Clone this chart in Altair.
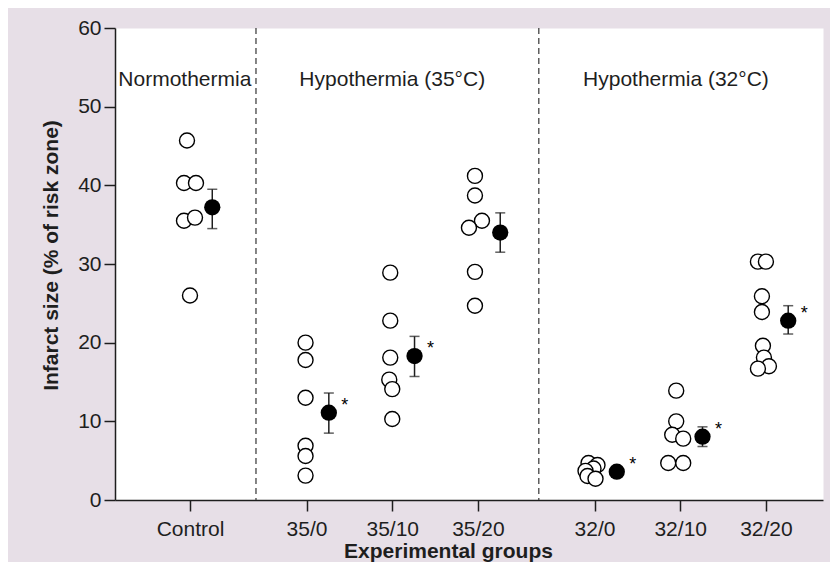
import altair as alt
import pandas as pd

# ---------------- data ----------------
groups = ["Control", "35/0", "35/10", "35/20", "32/0", "32/10", "32/20"]
cluster = [0, 1, 1, 1, 2, 2, 2]
cluster_labels = ["Normothermia", "Hypothermia (35°C)", "Hypothermia (32°C)"]
label_anchor = ["Control", "35/10", "32/10"]

individual = {
    "Control": [45.7, 40.3, 40.3, 35.5, 35.9, 26.0],
    "35/0": [20.0, 17.8, 13.0, 6.9, 5.6, 3.1],
    "35/10": [28.9, 22.8, 18.1, 15.3, 14.1, 10.3],
    "35/20": [41.2, 38.7, 35.5, 34.6, 29.0, 24.7],
    "32/0": [4.7, 4.45, 4.0, 3.7, 3.05, 2.7],
    "32/10": [13.9, 10.0, 8.3, 7.8, 4.7, 4.7],
    "32/20": [30.3, 30.3, 25.9, 23.9, 19.6, 18.1, 17.0, 16.7],
}
# horizontal scatter of the open circles (pixels from the group tick)
jitter_px = {
    "Control": [-3, -6, 6, -6, 5, 0],
    "35/0": [-1, -1, -1, -1, -1, -1],
    "35/10": [-2, -2, -2, -3, 0, 0],
    "35/20": [-3, -3, 4, -9, -3, -3],
    "32/0": [-6, 3, -1, -9, -7, 1],
    "32/10": [-4, -4, -8, 3, -12, 3],
    "32/20": [-8, 0, -4, -4, -3, -2, 3, -8],
}
means = [37.2, 11.1, 18.3, 34.0, 3.6, 8.05, 22.8]
sem_hi = [39.5, 13.6, 20.8, 36.5, 3.95, 9.3, 24.7]
sem_lo = [34.5, 8.5, 15.7, 31.5, 3.25, 6.8, 21.1]
signif = ["", "*", "*", "", "*", "*", "*"]

# ---------------- layout ----------------
GAP = 0.36            # extra space between temperature clusters
PX = 85.7             # pixels per x unit
MEAN_SHIFT = 0.26     # mean symbol drawn to the right of the raw points
LABEL_Y = 52.6
label_shift = [-0.06, 0.0, -0.05]
dividers = [0.77, 4.07]

pos = {g: i + GAP * c for i, (g, c) in enumerate(zip(groups, cluster))}

raw_rows = []
for g in groups:
    for v, j in zip(individual[g], jitter_px[g]):
        raw_rows.append({"group": g, "x": pos[g] + j / PX, "v": v})
raw_df = pd.DataFrame(raw_rows)

mean_df = pd.DataFrame({
    "group": groups,
    "x": [pos[g] + MEAN_SHIFT for g in groups],
    "v": means,
    "hi": sem_hi,
    "lo": sem_lo,
    "sig": signif,
})

lab_df = pd.DataFrame({
    "text": cluster_labels,
    "x": [pos[a] + s for a, s in zip(label_anchor, label_shift)],
    "v": [LABEL_Y] * 3,
})
div_df = pd.DataFrame({"x": dividers})

# label expression for x ticks
tick_vals = [pos[g] for g in groups]
expr = "''"
for g in reversed(groups):
    expr = f"abs(datum.value - {pos[g]}) < 0.05 ? '{g}' : " + expr

INK = "#1e1e1e"
FONT = "Liberation Sans"

xscale = alt.Scale(domain=[-0.875, 7.386], nice=False, zero=False)
yscale = alt.Scale(domain=[0, 60], nice=False)

xaxis = alt.Axis(
    values=tick_vals, labelExpr=expr, title="Experimental groups",
    titleFontSize=21, titleFontWeight="bold", titleColor=INK,
    titleX=333, titleY=57, titleAlign="center", titleBaseline="alphabetic",
    labelFontSize=21, labelColor=INK, labelPadding=7, labelFlush=False,
    labelOverlap=False, tickSize=11, tickWidth=1.5, tickColor=INK,
    domainColor=INK, domainWidth=1.5, grid=False,
)
yaxis = alt.Axis(
    values=list(range(0, 61, 10)), title="Infarct size (% of risk zone)",
    titleFontSize=21, titleFontWeight="bold", titleColor=INK,
    titleAngle=270, titleX=-58, titleY=227, titleAlign="center",
    titleBaseline="alphabetic",
    labelFontSize=21, labelColor=INK, labelPadding=3,
    tickSize=11, tickWidth=1.5, tickColor=INK,
    domainColor=INK, domainWidth=1.5, grid=False,
)

X = alt.X("x:Q", scale=xscale, axis=xaxis)
Y = alt.Y("v:Q", scale=yscale, axis=yaxis)

div = alt.Chart(div_df).mark_rule(
    color="#444444", strokeWidth=1.3, strokeDash=[6, 4]
).encode(x=X)

err = alt.Chart(mean_df).mark_rule(color=INK, strokeWidth=1.5).encode(
    x=X, y=alt.Y("lo:Q", scale=yscale, axis=yaxis), y2="hi:Q"
)
cap_hi = alt.Chart(mean_df).mark_tick(
    orient="horizontal", size=10, thickness=1.5, color=INK
).encode(x=X, y=alt.Y("hi:Q", scale=yscale, axis=yaxis))
cap_lo = alt.Chart(mean_df).mark_tick(
    orient="horizontal", size=10, thickness=1.5, color=INK
).encode(x=X, y=alt.Y("lo:Q", scale=yscale, axis=yaxis))

raw = alt.Chart(raw_df).mark_circle(
    size=225, fill="white", stroke="black", strokeWidth=1.4, opacity=1
).encode(x=X, y=Y)

mean_pt = alt.Chart(mean_df).mark_circle(
    size=265, color="black", opacity=1
).encode(x=X, y=Y)

stars = alt.Chart(mean_df).mark_text(
    fontSize=18, dx=16, dy=-2, align="center", baseline="alphabetic",
    color="black", font=FONT
).encode(x=X, y=Y, text="sig:N")

labels = alt.Chart(lab_df).mark_text(
    fontSize=21, align="center", baseline="alphabetic", color=INK, font=FONT
).encode(x=X, y=Y, text="text:N")

chart = alt.layer(div, err, cap_hi, cap_lo, raw, mean_pt, stars, labels).properties(
    width=708, height=472,
    background="#e7dfe7",
    padding={"left": 107, "top": 20, "right": 7, "bottom": 62},
    autosize=alt.AutoSizeParams(type="none"),
).configure(font=FONT).configure_view(fill="white", stroke="transparent")

chart.save("out.html", embed_options={"renderer": "svg", "actions": False})
